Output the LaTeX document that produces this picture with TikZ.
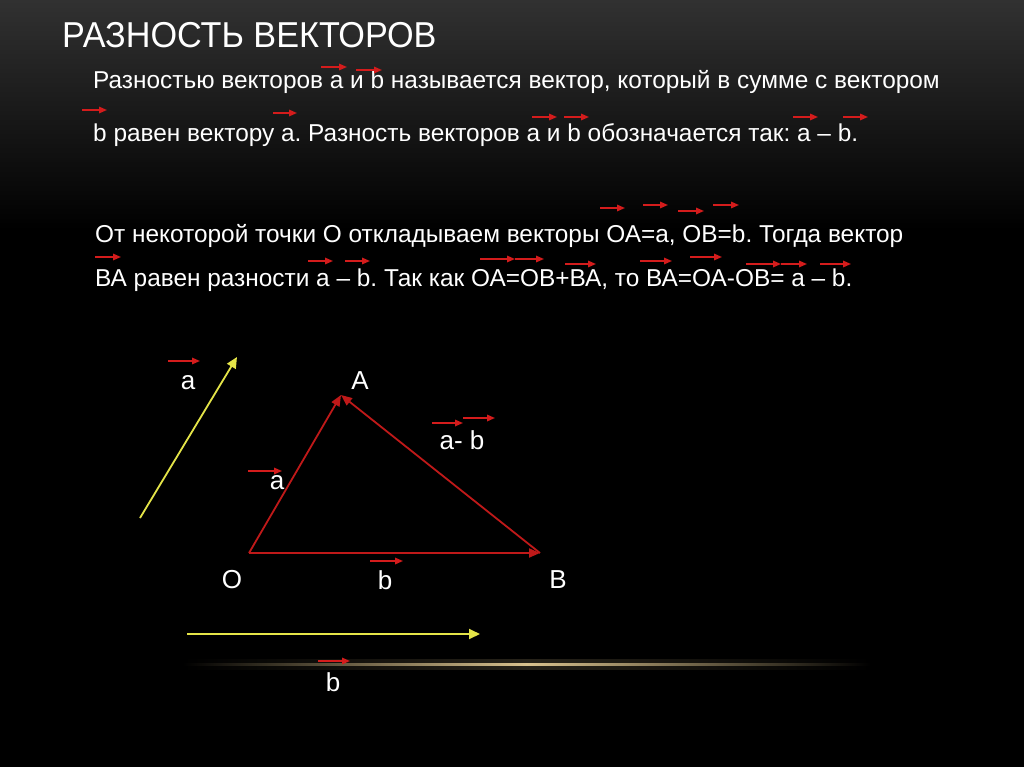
\documentclass[tikz,border=0pt]{standalone}
\usepackage{fontspec}
\setmainfont{Liberation Sans}
\newfontfamily\titlefont[FakeStretch=0.95]{Liberation Sans}
\usetikzlibrary{arrows.meta,positioning}
\frenchspacing
\definecolor{vecred}{HTML}{D41C1C}
\definecolor{vecyellow}{HTML}{E4E448}
\definecolor{glowgold}{HTML}{D9C28E}
\definecolor{topgray}{HTML}{313131}
\tikzset{
  heading/.style={anchor=base west, inner sep=0pt, text=white, font=\titlefont\fontsize{36}{36}\selectfont},
  textline/.style={anchor=base west, inner sep=0pt, text=white, font=\fontsize{24.4}{24.4}\selectfont},
  lbl/.style={inner sep=0pt, text=white, font=\fontsize{26}{26}\selectfont},
  overarrow/.style={-{Triangle[length=8pt,width=6.5pt]}, line width=1.6pt, draw=vecred},
  side/.style={-{Triangle[length=11pt,width=9pt]}, line width=1.8pt, draw=vecred!90!black},
  free/.style={-{Triangle[length=11pt,width=10pt]}, line width=1.8pt, draw=vecyellow}
}

\begin{document}
\begin{tikzpicture}[x=1pt, y=-1pt]
  \useasboundingbox (0,0) rectangle (1024,767);
  % background
  \fill[black] (0,0) rectangle (1024,767);
  \shade[top color=topgray, bottom color=black] (0,0) rectangle (1024,230);
  \shade[left color=black, right color=black, middle color=glowgold!18!black] (183,659) rectangle (870,669);
  \shade[left color=black, right color=black, middle color=glowgold] (183,663) rectangle (870,665.5);

  % text
  \node[heading] (title) at (62,48) {РАЗНОСТЬ ВЕКТОРОВ};
  \node[textline] (def1) at (93,89) {Разностью векторов а и b называется вектор, который в сумме с вектором};
  \node[textline] (def2) at (93,142) {b равен вектору а. Разность векторов а и b обозначается так: а – b.};
  \node[textline] (con1) at (95,242) {От некоторой точки О откладываем векторы ОА=а, ОВ=b. Тогда вектор};
  \node[textline] (con2) at (95,286) {ВА равен разности а – b. Так как ОА=ОВ+ВА, то ВА=ОА-ОВ= а – b.};

  % vector marks over the text
  \draw[overarrow] (321,67) -- (347,67);
  \draw[overarrow] (356,70) -- (382,70);
  \draw[overarrow] (82,110) -- (107,110);
  \draw[overarrow] (273,113) -- (297,113);
  \draw[overarrow] (532,117) -- (557,117);
  \draw[overarrow] (564,117) -- (589,117);
  \draw[overarrow] (793,117) -- (818,117);
  \draw[overarrow] (843,117) -- (868,117);
  \draw[overarrow] (600,208) -- (625,208);
  \draw[overarrow] (643,205) -- (668,205);
  \draw[overarrow] (678,211) -- (704,211);
  \draw[overarrow] (713,205) -- (739,205);
  \draw[overarrow] (95,257) -- (121,257);
  \draw[overarrow] (308,261) -- (333,261);
  \draw[overarrow] (345,261) -- (370,261);
  \draw[overarrow] (480,259) -- (515,259);
  \draw[overarrow] (515,259) -- (544,259);
  \draw[overarrow] (565,264) -- (596,264);
  \draw[overarrow] (640,261) -- (672,261);
  \draw[overarrow] (690,257) -- (722,257);
  \draw[overarrow] (746,264) -- (781,264);
  \draw[overarrow] (781,264) -- (807,264);
  \draw[overarrow] (820,264) -- (851,264);

  % free vectors
  \coordinate (a0) at (140,518);
  \coordinate (a1) at (237,357);
  \coordinate (b0) at (187,634);
  \coordinate (b1) at (480,634);
  \draw[free] (a0) -- (a1);
  \draw[free] (b0) -- (b1);
  \node[lbl] (la) at (188,383) {a};
  \draw[overarrow] (168,361) -- (200,361);
  \node[lbl] (lb) at (333,682) {b};
  \draw[overarrow] (318,661) -- (350,661);

  % triangle
  \coordinate (O) at (249,553);
  \coordinate (A) at (341,395);
  \coordinate (B) at (540,553);
  \draw[side] (O) -- (A);
  \draw[side] (B) -- (A);
  \draw[side] (O) -- (B);
  \node[lbl] (nA) at (360,381) {A};
  \node[lbl] (nO) at (232,580) {O};
  \node[lbl] (nB) at (558,580) {B};
  \node[lbl] (sa) at (277,483) {a};
  \draw[overarrow] (248,471) -- (282,471);
  \node[lbl] (sb) at (385,580) {b};
  \draw[overarrow] (370,561) -- (403,561);
  \node[lbl] (sd) at (462,440) {a- b};
  \draw[overarrow] (432,423) -- (463,423);
  \draw[overarrow] (463,418) -- (495,418);
\end{tikzpicture}
\end{document}
